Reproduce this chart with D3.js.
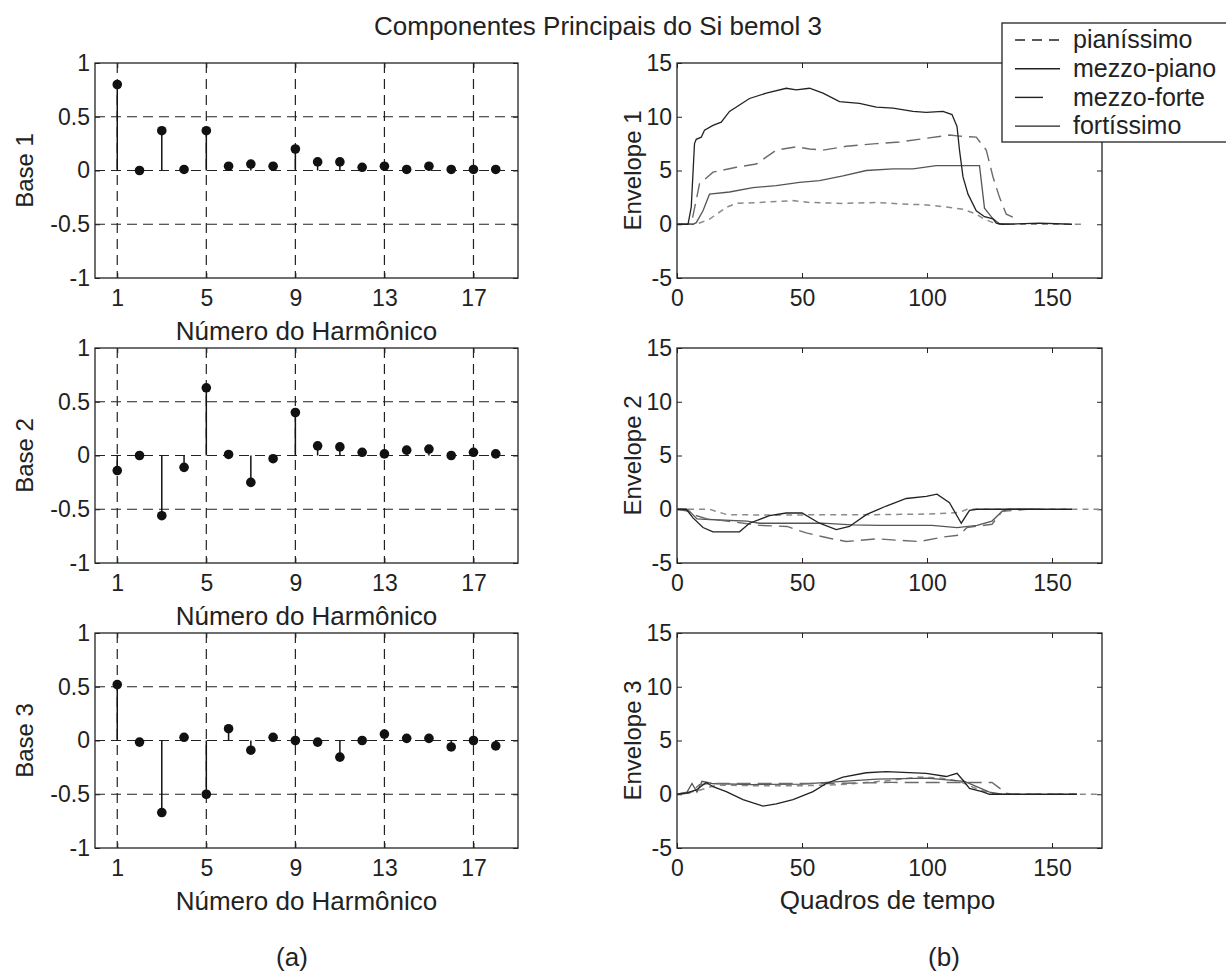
<html>
<head>
<title>Componentes Principais</title>
<script src="https://d3js.org/d3.v7.min.js"></script>
<style>
body { margin: 0; background: white; }
svg text { font-family: "Liberation Sans", Arial, sans-serif; fill: #222; }
.tick line { stroke: #222; }
.domain { stroke: none; }
</style>
</head>
<body>
<svg id="chart" width="1226" height="975"></svg>
<script>

// stem data (harmonics 1..18)
const harmonics = [1,2,3,4,5,6,7,8,9,10,11,12,13,14,15,16,17,18];
const base1 = [0.80,0.00,0.37,0.01,0.37,0.04,0.06,0.04,0.20,0.08,0.08,0.03,0.04,0.01,0.04,0.01,0.01,0.01];
const base2 = [-0.14,0.00,-0.56,-0.11,0.63,0.01,-0.25,-0.03,0.40,0.09,0.08,0.03,0.015,0.05,0.06,0.00,0.03,0.015];
const base3 = [0.52,-0.015,-0.67,0.03,-0.50,0.11,-0.09,0.03,0.00,-0.015,-0.155,0.00,0.06,0.02,0.02,-0.06,0.00,-0.05];
const stemTicks = [1,5,9,13,17];
const stemYTicks = [1,0.5,0,-0.5,-1];

// envelope data: [frame, value]
const dynamics = ["pianíssimo","mezzo-piano","mezzo-forte","fortíssimo"];

const env1_pp = [[0,0],[7.7,0],[13,0.47],[19.7,1.56],[23.7,1.94],[33,2.03],[46.4,2.2],[53,2.03],[66.4,1.94],[79.7,2.03],[89,1.9],[99.7,1.8],[107.7,1.6],[114.4,1.4],[119.7,0.94],[123,0.47],[126.4,0.15],[129,0],[162,0]];
const env1_mp = [[0,0],[6.4,0],[7.7,0.15],[10.4,1.25],[13,2.8],[21,3.0],[30.4,3.4],[39.7,3.6],[49,3.9],[57,4.06],[66.4,4.5],[75.7,5.0],[86.4,5.15],[94.4,5.15],[103.7,5.45],[121,5.45],[123,1.5],[126.4,0.5],[129,0.05],[133,0]];
const env1_mf = [[0,0],[5.7,0],[9,3.75],[14.4,4.85],[23.7,5.3],[31.7,5.6],[39.7,6.9],[47.7,7.2],[53,7.0],[58.4,6.9],[67.7,7.25],[79.7,7.5],[89,7.65],[99.7,8.0],[109,8.3],[113,8.2],[119.7,8.1],[123.7,6.9],[126.4,4.4],[129,2.5],[131.7,0.94],[135,0.6]];
const env1_ff = [[0,0],[4.4,0],[5.7,1.6],[7,7.5],[7.7,7.9],[9.7,8.1],[11,8.75],[14.4,9.2],[17.7,9.5],[21,10.5],[25,11.1],[29,11.7],[35.7,12.2],[43.7,12.65],[47.7,12.5],[53,12.65],[58.4,12.2],[65,11.4],[73,11.25],[79.7,10.9],[86.4,10.8],[94.4,10.5],[99.7,10.4],[106.4,10.5],[110,10.2],[112,9.1],[113,6.9],[114.4,4.4],[116.4,2.8],[119.7,1.25],[123,0.7],[126.4,0.5],[127.7,0.1],[130,0],[145,0.1],[158,0]];

const env2_pp = [[0,0],[13,0],[20,-0.5],[40,-0.55],[60,-0.5],[80,-0.5],[100,-0.45],[113,-0.3],[116,0],[170,0]];
const env2_mp = [[0,0],[5,-0.2],[8,-0.9],[17,-1.0],[28,-1.1],[33,-1.3],[46,-1.3],[58,-1.3],[70,-1.45],[81,-1.5],[102,-1.5],[112,-1.7],[120,-1.5],[126,-1.1],[130,-0.2],[133,0],[145,0]];
const env2_mf = [[0,0],[4,0],[6.4,-0.5],[12,-0.9],[20,-1.1],[33,-1.5],[44,-1.6],[51.7,-2.2],[61,-2.7],[67.7,-3.0],[80,-2.75],[86,-2.85],[97,-3.0],[106,-2.6],[113,-2.4],[116,-1.7],[126,-1.4],[130,-0.2],[140,0]];
const env2_ff = [[0,0],[3.7,0],[6.4,-0.8],[10.4,-1.7],[14.4,-2.1],[25,-2.1],[29,-1.3],[37,-0.6],[43.7,-0.35],[50,-0.35],[57,-1.3],[63.7,-1.9],[69,-1.6],[75.7,-0.5],[83.7,0.3],[91.7,1.0],[99.7,1.2],[104,1.4],[109,0.6],[113.7,-1.3],[117,-0.1],[120,0],[158,0]];

const env3_pp = [[0,0],[8,0.3],[15.7,0.85],[30,0.8],[46,0.78],[60,0.85],[68,0.93],[86,1.3],[96,1.6],[106,1.5],[113,1.2],[121,0.4],[126,0.1],[128,0],[170,0]];
const env3_mp = [[0,0],[4,0.2],[6,1.0],[8,0.2],[10,1.2],[14,1.0],[30,0.9],[50,0.95],[60,1.1],[80,1.4],[100,1.5],[115,1.2],[125,0.2],[130,0]];
const env3_mf = [[0,0],[5,0.1],[9,0.9],[13,1.0],[35,1.0],[60,1.0],[86,1.1],[126,1.1],[131.7,0.1],[134,0],[160,0]];
const env3_ff = [[0,0],[3.7,0.1],[7.7,0.4],[11.7,1.1],[14.4,0.7],[19.7,0.25],[26.4,-0.5],[34.4,-1.1],[39.7,-0.9],[46.4,-0.5],[54.4,0.25],[59.7,1.0],[66.4,1.6],[75.7,2.0],[83.7,2.1],[99.7,1.95],[107.7,1.65],[112,1.95],[114.4,1.3],[117,0.55],[122,0.25],[125,0],[160,0]];

const envTicksX = [0,50,100,150];
const envTicksY = [15,10,5,0,-5];

const svg = d3.select("svg#chart");
const rowTops = [63, 348, 633];
const panelH = 215;
const leftX = [95, 518];
const rightX = [677, 1102];
const tickFont = "23px";
const labelFont = "26px";

const styles = {
  "pianíssimo":  {stroke: "#8a8a8a", dash: "6,5", width: 1.5},
  "mezzo-piano": {stroke: "#555", dash: null, width: 1.3},
  "mezzo-forte": {stroke: "#6a6a6a", dash: "14,7", width: 1.4},
  "fortíssimo":  {stroke: "#222", dash: null, width: 1.3}
};

// plain hyphen minus, like the original
const plain = d => String(d);

// title
svg.append("text").attr("x", 598).attr("y", 35).attr("text-anchor", "middle")
   .attr("font-size", labelFont).text("Componentes Principais do Si bemol 3");

//stem panels
const stemData = [base1, base2, base3];
stemData.forEach((vals, i) => {
  const top = rowTops[i];
  const x = d3.scaleLinear().domain([0, 19]).range(leftX);
  const y = d3.scaleLinear().domain([-1, 1]).range([top + panelH, top]);
  const g = svg.append("g");

  // dashed grid
  g.selectAll("line.vgrid").data(stemTicks).enter().append("line")
    .attr("x1", d => x(d)).attr("x2", d => x(d)).attr("y1", top).attr("y2", top + panelH)
    .attr("stroke", "#222").attr("stroke-dasharray", "10,6").attr("stroke-width", 1.2);
  g.selectAll("line.hgrid").data([0.5, 0, -0.5]).enter().append("line")
    .attr("x1", leftX[0]).attr("x2", leftX[1]).attr("y1", d => y(d)).attr("y2", d => y(d))
    .attr("stroke", "#222").attr("stroke-dasharray", "10,6").attr("stroke-width", 1.2);

  // axes
  g.append("g").attr("transform", `translate(0,${top + panelH})`)
    .call(d3.axisBottom(x).tickValues(stemTicks).tickSizeInner(-5).tickSizeOuter(0).tickPadding(12).tickFormat(plain))
    .call(a => a.selectAll("text").attr("font-size", tickFont).attr("fill", "#222"));
  g.append("g").attr("transform", `translate(0,${top})`)
    .call(d3.axisTop(x).tickValues(stemTicks).tickSizeInner(-5).tickSizeOuter(0).tickFormat(""));
  g.append("g").attr("transform", `translate(${leftX[0]},0)`)
    .call(d3.axisLeft(y).tickValues(stemYTicks).tickSizeInner(-5).tickSizeOuter(0).tickPadding(5).tickFormat(plain))
    .call(a => a.selectAll("text").attr("font-size", tickFont).attr("fill", "#222"));
  g.append("g").attr("transform", `translate(${leftX[1]},0)`)
    .call(d3.axisRight(y).tickValues(stemYTicks).tickSizeInner(-5).tickSizeOuter(0).tickFormat(""));

  g.append("rect").attr("x", leftX[0]).attr("y", top).attr("width", leftX[1] - leftX[0]).attr("height", panelH)
    .attr("fill", "none").attr("stroke", "#222").attr("stroke-width", 1.3);

  // stems
  g.selectAll("line.stem").data(vals).enter().append("line")
    .attr("x1", (d, k) => x(harmonics[k])).attr("x2", (d, k) => x(harmonics[k]))
    .attr("y1", y(0)).attr("y2", d => y(d))
    .attr("stroke", "#111").attr("stroke-width", 1.5);
  g.selectAll("circle").data(vals).enter().append("circle")
    .attr("cx", (d, k) => x(harmonics[k])).attr("cy", d => y(d)).attr("r", 4.8)
    .attr("fill", "#111");

  // labels
  svg.append("text").attr("transform", `translate(33,${top + panelH / 2}) rotate(-90)`)
    .attr("text-anchor", "middle").attr("font-size", "24px").text("Base " + (i + 1));
  svg.append("text").attr("x", (leftX[0] + leftX[1]) / 2).attr("y", top + panelH + 62)
    .attr("text-anchor", "middle").attr("font-size", labelFont).text("Número do Harmônico");
});

//envelope panels
const envData = [
  [env1_pp, env1_mp, env1_mf, env1_ff],
  [env2_pp, env2_mp, env2_mf, env2_ff],
  [env3_pp, env3_mp, env3_mf, env3_ff]
];
envData.forEach((series, i) => {
  const top = rowTops[i];
  const x = d3.scaleLinear().domain([0, 170]).range(rightX);
  const y = d3.scaleLinear().domain([-5, 15]).range([top + panelH, top]);
  const g = svg.append("g");

  g.append("g").attr("transform", `translate(0,${top + panelH})`)
    .call(d3.axisBottom(x).tickValues(envTicksX).tickSizeInner(-5).tickSizeOuter(0).tickPadding(12).tickFormat(plain))
    .call(a => a.selectAll("text").attr("font-size", tickFont).attr("fill", "#222"));
  g.append("g").attr("transform", `translate(0,${top})`)
    .call(d3.axisTop(x).tickValues(envTicksX).tickSizeInner(-5).tickSizeOuter(0).tickFormat(""));
  g.append("g").attr("transform", `translate(${rightX[0]},0)`)
    .call(d3.axisLeft(y).tickValues(envTicksY).tickSizeInner(-5).tickSizeOuter(0).tickPadding(5).tickFormat(plain))
    .call(a => a.selectAll("text").attr("font-size", tickFont).attr("fill", "#222"));
  g.append("g").attr("transform", `translate(${rightX[1]},0)`)
    .call(d3.axisRight(y).tickValues(envTicksY).tickSizeInner(-5).tickSizeOuter(0).tickFormat(""));

  g.append("rect").attr("x", rightX[0]).attr("y", top).attr("width", rightX[1] - rightX[0]).attr("height", panelH)
    .attr("fill", "none").attr("stroke", "#222").attr("stroke-width", 1.3);

  const line = d3.line().x(d => x(d[0])).y(d => y(d[1]));
  series.forEach((pts, k) => {
    const st = styles[dynamics[k]];
    g.append("path").attr("d", line(pts)).attr("fill", "none")
      .attr("stroke", st.stroke).attr("stroke-width", st.width)
      .attr("stroke-dasharray", st.dash);
  });

  svg.append("text").attr("transform", `translate(641,${top + panelH / 2}) rotate(-90)`)
    .attr("text-anchor", "middle").attr("font-size", "24px").text("Envelope " + (i + 1));
});

svg.append("text").attr("x", (rightX[0] + rightX[1]) / 2 - 2).attr("y", rowTops[2] + panelH + 61)
  .attr("text-anchor", "middle").attr("font-size", labelFont).text("Quadros de tempo");

svg.append("text").attr("x", 292).attr("y", 966).attr("text-anchor", "middle").attr("font-size", labelFont).text("(a)");
svg.append("text").attr("x", 944).attr("y", 966).attr("text-anchor", "middle").attr("font-size", labelFont).text("(b)");

//legend
const legend = svg.append("g").attr("transform", "translate(1002,23)");
legend.append("rect").attr("x", 0).attr("y", 0).attr("width", 240).attr("height", 119)
  .attr("fill", "white").attr("stroke", "#222").attr("stroke-width", 1.3);
const legendLen = [45, 45, 28, 45];
dynamics.forEach((name, k) => {
  const cy = 17 + k * 28.7;
  legend.append("line").attr("x1", 13).attr("x2", 13 + legendLen[k]).attr("y1", cy).attr("y2", cy)
    .attr("stroke", "#222").attr("stroke-width", 1.4)
    .attr("stroke-dasharray", name === "pianíssimo" ? "10,7" : null);
  legend.append("text").attr("x", 71).attr("y", cy).attr("dy", "0.33em")
    .attr("font-size", "25px").text(name);
});

</script>
</body>
</html>
